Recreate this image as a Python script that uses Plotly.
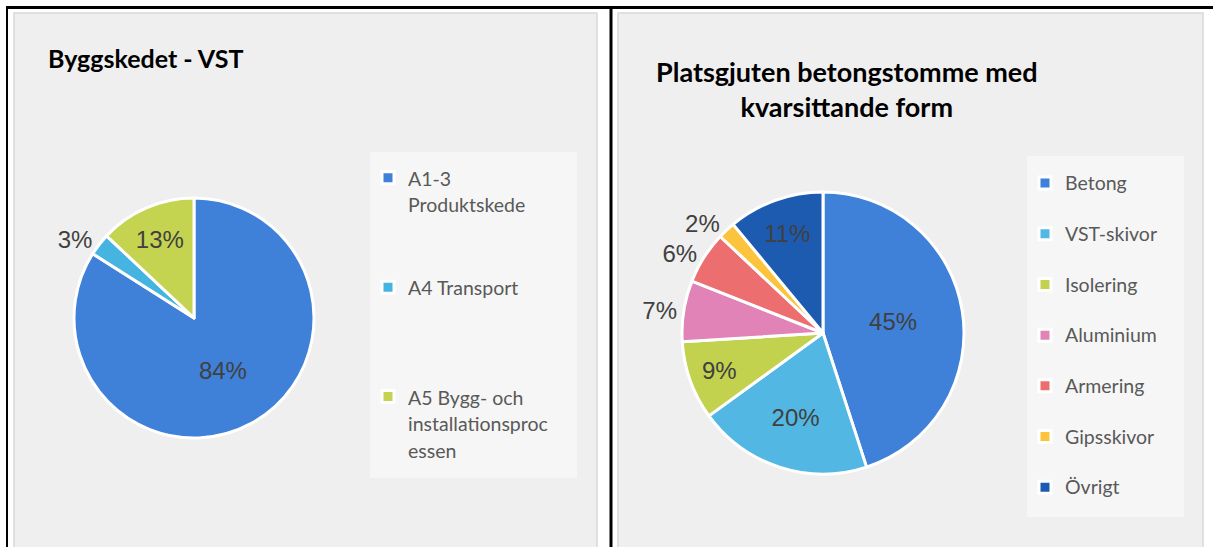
import plotly.graph_objects as go

W, H = 1213, 547

# data
vst_labels = ["A1-3<br>Produktskede<br> <br> ", "A4 Transport<br> <br> <br> ",
              "A5 Bygg- och<br>installationsproc<br>essen"]
vst_values = [84, 3, 13]
vst_colors = ["#3f80d8", "#46b4e0", "#c5d450"]

betong_labels = ["Betong", "VST-skivor", "Isolering", "Aluminium", "Armering", "Gipsskivor", "Övrigt"]
betong_values = [45, 20, 9, 7, 6, 2, 11]
betong_colors = ["#3f80d8", "#52b7e3", "#c3d24e", "#e183b6", "#ec6e6e", "#fcc43c", "#1d5bb0"]


def px(x):
    return x / W


def py(y):
    return 1 - y / H


def span(t, size=19.5):
    return "<br>".join(f'<span style="font-size:{size}px">{p}</span>' for p in t.split("<br>"))


pct_font = dict(family="Liberation Sans, Arial", size=24, color="#404040")

fig = go.Figure()

fig.add_trace(go.Pie(
    labels=[span(l) for l in vst_labels], values=vst_values, sort=False, direction="clockwise",
    marker=dict(colors=vst_colors, line=dict(color="white", width=3)),
    textinfo="percent", texttemplate="%{percent:.0%}",
    textposition=["inside", "outside", "inside"], insidetextorientation="horizontal",
    textfont=pct_font, outsidetextfont=pct_font, insidetextfont=pct_font,
    domain=dict(x=[px(74), px(314)], y=[py(438), py(198)]),
    legend="legend", hoverinfo="label+percent",
))

fig.add_trace(go.Pie(
    labels=[span(l + "<br> ") for l in betong_labels], values=betong_values, sort=False,
    direction="clockwise",
    marker=dict(colors=betong_colors, line=dict(color="white", width=3)),
    textinfo="percent", texttemplate="%{percent:.0%}",
    textposition=["inside", "inside", "inside", "outside", "outside", "outside", "inside"],
    insidetextorientation="horizontal",
    textfont=pct_font, outsidetextfont=pct_font, insidetextfont=pct_font,
    domain=dict(x=[px(682), px(964)], y=[py(474), py(192)]),
    legend="legend2", hoverinfo="label+percent",
))

shapes = [
    # panels
    dict(type="rect", x0=px(14), x1=px(597), y0=py(13), y1=py(560),
         fillcolor="#efefef", line=dict(color="#d9d9d9", width=1.5), layer="below"),
    dict(type="rect", x0=px(618), x1=px(1203), y0=py(13), y1=py(560),
         fillcolor="#efefef", line=dict(color="#d9d9d9", width=1.5), layer="below"),
    # legend boxes
    dict(type="rect", x0=px(370), x1=px(577), y0=py(152), y1=py(478),
         fillcolor="#f6f6f6", line=dict(width=0), layer="below"),
    dict(type="rect", x0=px(1027), x1=px(1184), y0=py(156), y1=py(517),
         fillcolor="#f6f6f6", line=dict(width=0), layer="below"),
    # black frame
    dict(type="line", x0=px(6), x1=1, y0=py(7.5), y1=py(7.5), line=dict(color="black", width=3)),
    dict(type="line", x0=px(7), x1=px(7), y0=py(6), y1=0, line=dict(color="black", width=2)),
    dict(type="line", x0=px(611), x1=px(611), y0=py(6), y1=0, line=dict(color="black", width=3)),
]
for s in shapes:
    s.update(xref="paper", yref="paper")

fig.update_layout(
    width=W, height=H, margin=dict(l=0, r=0, t=0, b=0),
    paper_bgcolor="white", plot_bgcolor="white",
    shapes=shapes,
    annotations=[
        dict(text="<b>Byggskedet - VST</b>", x=px(46), y=py(58), xanchor="left", yanchor="middle",
             xref="paper", yref="paper", showarrow=False,
             font=dict(family="Lato", size=25, color="black")),
        dict(text="<b>Platsgjuten betongstomme med<br>kvarsittande form</b>", x=px(847), y=py(89),
             xanchor="center", yanchor="middle", xref="paper", yref="paper", showarrow=False,
             font=dict(family="Lato", size=27, color="black"), align="center"),
    ],
    legend=dict(x=px(368), y=py(158), xanchor="left", yanchor="top", bgcolor="rgba(0,0,0,0)",
                font=dict(family="Lato", size=20.46, color="#595959"), valign="top",
                traceorder="normal"),
    legend2=dict(x=px(1025), y=py(164.6), xanchor="left", yanchor="top", bgcolor="rgba(0,0,0,0)",
                 font=dict(family="Lato", size=18.35, color="#595959"), valign="top",
                 traceorder="normal"),
    showlegend=True,
)

fig.write_html("out.html", config={"displayModeBar": False},
               post_script="document.body.style.margin='0';")
